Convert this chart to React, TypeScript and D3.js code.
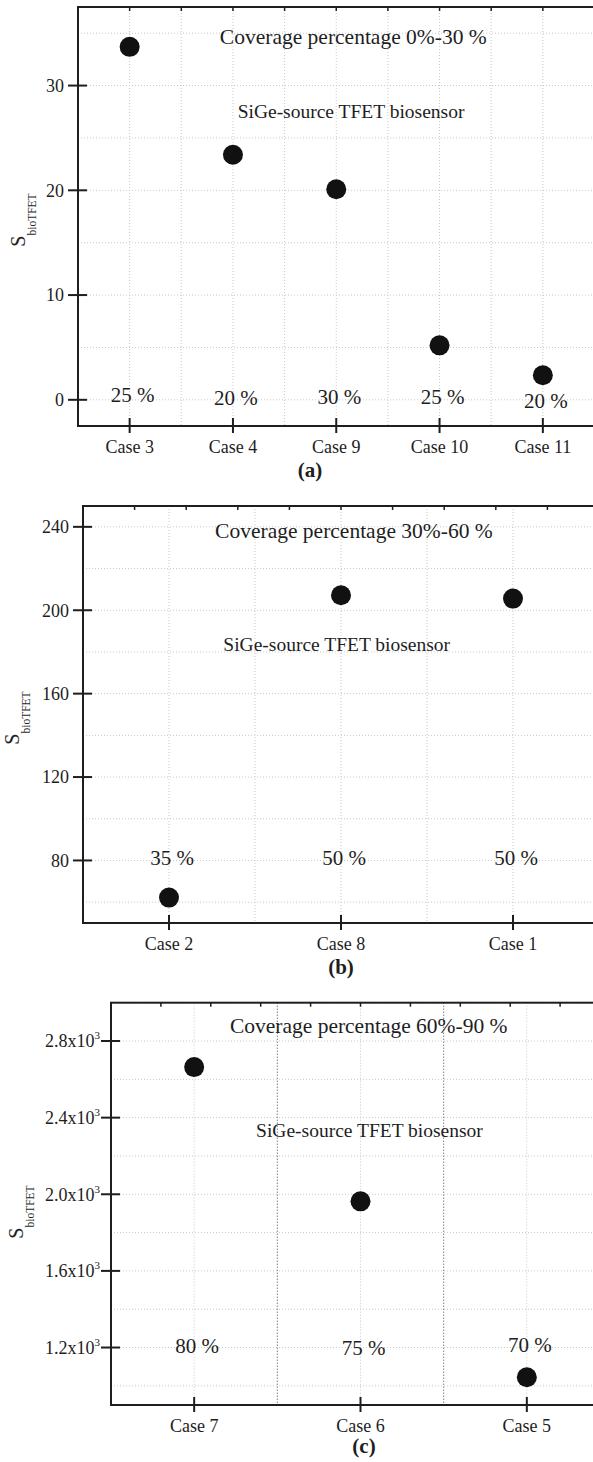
import * as d3 from "d3";

// panel (a) coverage 0%-30%
const casesA = ["Case 3", "Case 4", "Case 9", "Case 10", "Case 11"];
const sA = [33.7, 23.4, 20.1, 5.2, 2.35];
const coverA = ["25 %", "20 %", "30 %", "25 %", "20 %"];
const ticksA = [0, 10, 20, 30];

// panel (b) coverage 30%-60%
const casesB = ["Case 2", "Case 8", "Case 1"];
const sB = [62.2, 207.2, 205.6];
const coverB = ["35 %", "50 %", "50 %"];
const ticksB = [80, 120, 160, 200, 240];

// panel (c) coverage 60%-90%
const casesC = ["Case 7", "Case 6", "Case 5"];
const sC = [2664, 1963, 1045];
const coverC = ["80 %", "75 %", "70 %"];
const ticksC = [1200, 1600, 2000, 2400, 2800];

const FONT = "'Liberation Serif', 'Times New Roman', serif";
const INK = "#1e1e1e";

const panels = [
  {
    cases: casesA, values: sA, cover: coverA, ticks: ticksA,
    title: "Coverage percentage 0%-30 %", tag: "(a)",
    l: 78, r: 594.5, t: 7, b: 426, yDomain: [-2.5, 37.5], gridStart: 0, gridStep: 5,
    labelY: [-0.18, -0.5, -0.4, -0.43, -0.81],
    titlePos: [0.533, 34.0], subPos: [0.5286, 26.9],
    yLabel: [25, 220], tagPos: [310, 477], darkMids: false, sci: false,
  },
  {
    cases: casesB, values: sB, cover: coverB, ticks: ticksB,
    title: "Coverage percentage 30%-60 %", tag: "(b)",
    l: 83, r: 599, t: 506, b: 923, yDomain: [50, 250], gridStart: 60, gridStep: 20,
    labelY: [77.7, 77.7, 77.7],
    titlePos: [0.525, 234.5], subPos: [0.4917, 180.5],
    yLabel: [18.5, 718], tagPos: [341, 974], darkMids: false, sci: false,
  },
  {
    cases: casesC, values: sC, cover: coverC, ticks: ticksC,
    title: "Coverage percentage 60%-90 %", tag: "(c)",
    l: 111, r: 610, t: 1002.7, b: 1405, yDomain: [900, 3000], gridStart: 1000, gridStep: 200,
    labelY: [1173, 1160, 1175],
    titlePos: [0.5164, 2840], subPos: [0.518, 2297],
    yLabel: [23, 1212], tagPos: [364, 1453], darkMids: true, sci: true,
  },
];

function Panel({ p }: { p: any }) {
  const x = d3.scalePoint<string>().domain(p.cases).range([p.l, p.r]).padding(0.5);
  const step = x.step();
  const y = d3.scaleLinear().domain(p.yDomain).range([p.b, p.t]);
  const hGrid = d3.range(p.gridStart, p.yDomain[1] + 1e-9, p.gridStep);
  const mids = p.cases.map((c: string) => (x(c) as number) + step / 2);
  const topTicks = d3.range(1, 10).map((k) => p.l + ((p.r - p.l) * k) / 10);
  const w = p.r - p.l;

  return (
    <g>
      {/* grid */}
      {hGrid.map((v: number) => (
        <line key={"h" + v} x1={p.l} x2={p.r} y1={y(v)} y2={y(v)}
          stroke="#c9c9c9" strokeWidth={1} strokeDasharray="1,2" />
      ))}
      {p.cases.map((c: string) => (
        <line key={"v" + c} x1={x(c)} x2={x(c)} y1={p.t} y2={p.b}
          stroke="#c9c9c9" strokeWidth={1} strokeDasharray="1,2" />
      ))}
      {mids.map((m: number, i: number) => (
        <line key={"m" + i} x1={m} x2={m} y1={p.t} y2={p.b}
          stroke={p.darkMids ? "#444" : "#c9c9c9"} strokeWidth={1} strokeDasharray="1,2" />
      ))}

      {/* frame */}
      <rect x={p.l} y={p.t} width={w} height={p.b - p.t} fill="none" stroke={INK} strokeWidth={2} />
      {topTicks.map((tx: number, i: number) => (
        <line key={"t" + i} x1={tx} x2={tx} y1={p.t} y2={p.t + 4} stroke={INK} strokeWidth={1.5} />
      ))}

      {/* y axis */}
      {p.ticks.map((v: number) => (
        <g key={"y" + v}>
          <line x1={p.l - 10} x2={p.l + 9} y1={y(v)} y2={y(v)} stroke={INK} strokeWidth={2} />
          {p.sci ? (
            <text x={p.l - 11} y={y(v)} dy="0.35em" textAnchor="end" fontSize={18} fontFamily={FONT} fill={INK}>
              {(v / 1000).toFixed(1) + "x10"}
              <tspan fontSize={11} dy={-8}>3</tspan>
            </text>
          ) : (
            <text x={p.l - 14} y={y(v)} dy="0.35em" textAnchor="end" fontSize={18} fontFamily={FONT} fill={INK}>
              {v}
            </text>
          )}
        </g>
      ))}

      {/* x axis */}
      {p.cases.map((c: string) => (
        <g key={"x" + c}>
          <line x1={x(c)} x2={x(c)} y1={p.b - 8} y2={p.b + 7} stroke={INK} strokeWidth={2} />
          <text x={x(c)} y={p.b + 27} textAnchor="middle" fontSize={18} fontFamily={FONT} fill={INK}>
            {c}
          </text>
        </g>
      ))}

      {/* points */}
      {p.cases.map((c: string, i: number) => (
        <circle key={"p" + c} cx={x(c)} cy={y(p.values[i])} r={10} fill="#111" />
      ))}

      {/* coverage labels */}
      {p.cases.map((c: string, i: number) => (
        <text key={"c" + c} x={(x(c) as number) + 3} y={y(p.labelY[i])} textAnchor="middle"
          fontSize={21} fontFamily={FONT} fill={INK}>
          {p.cover[i]}
        </text>
      ))}

      {/* annotations */}
      <text x={p.l + w * p.titlePos[0]} y={y(p.titlePos[1])} textAnchor="middle" fontSize={21.5}
        fontFamily={FONT} fill={INK}>
        {p.title}
      </text>
      <text x={p.l + w * p.subPos[0]} y={y(p.subPos[1])} textAnchor="middle" fontSize={19.5}
        fontFamily={FONT} fill={INK}>
        SiGe-source TFET biosensor
      </text>

      {/* y label */}
      <text transform={`translate(${p.yLabel[0]},${p.yLabel[1]}) rotate(-90)`} textAnchor="middle"
        fontFamily={FONT} fill={INK}>
        <tspan fontSize={20}>S</tspan>
        <tspan fontSize={11.5} dy={11}>bioTFET</tspan>
      </text>

      <text x={p.tagPos[0]} y={p.tagPos[1]} textAnchor="middle" fontSize={21} fontWeight="bold"
        fontFamily={FONT} fill={INK}>
        {p.tag}
      </text>
    </g>
  );
}

export default function App() {
  return (
    <svg width={593} height={1462} style={{ position: "absolute", left: 0, top: 0, background: "#fff" }}>
      <rect width={593} height={1462} fill="#fff" />
      {panels.map((p, i) => (
        <Panel key={i} p={p} />
      ))}
    </svg>
  );
}
